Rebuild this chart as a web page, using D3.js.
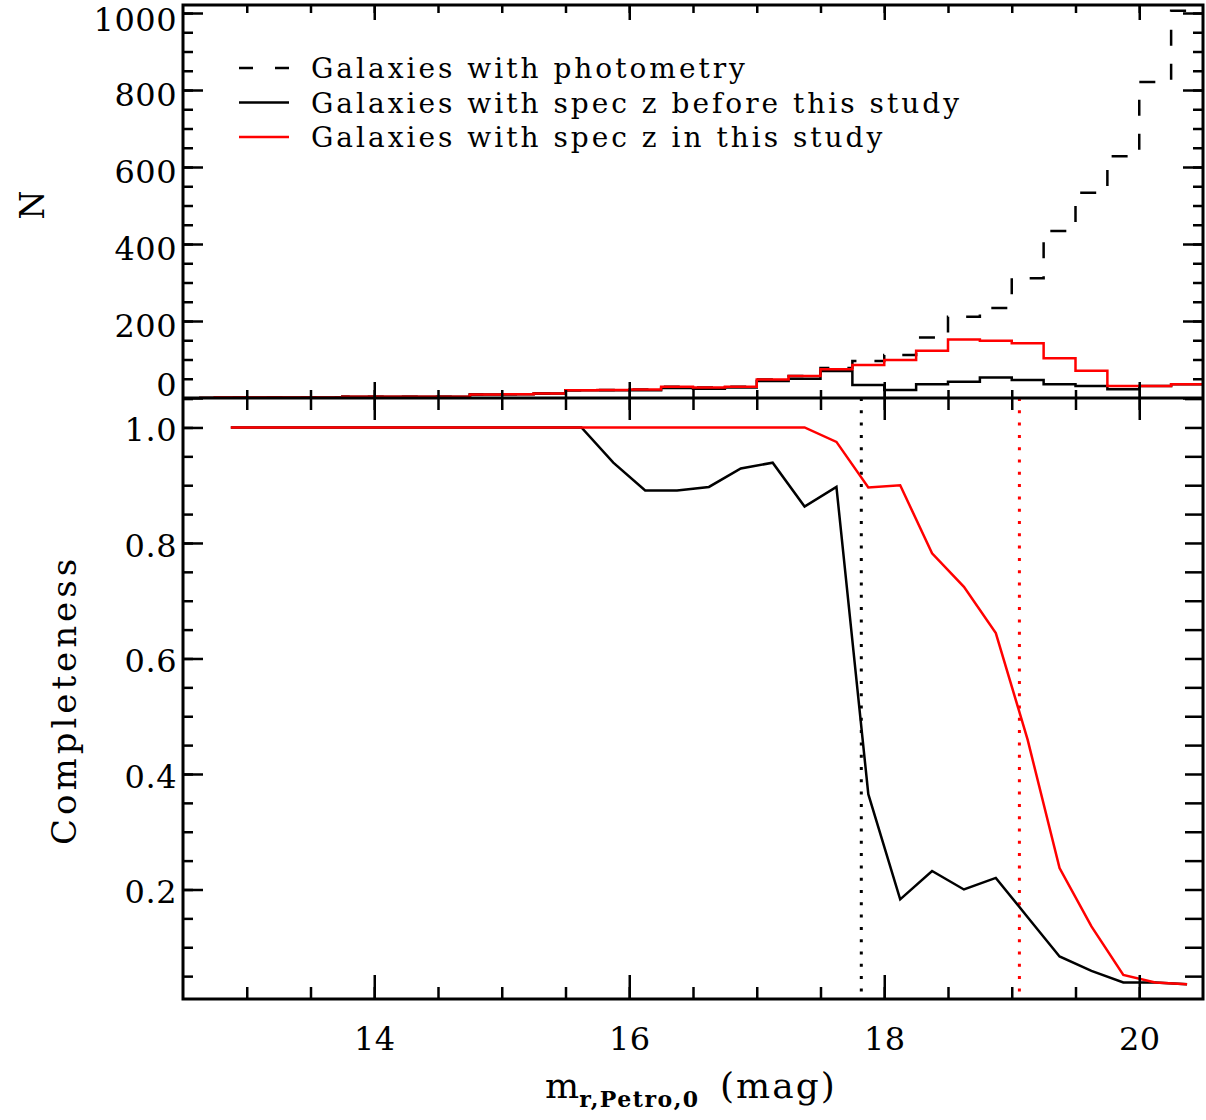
<!DOCTYPE html>
<html>
<head>
<meta charset="UTF-8">
<title>Completeness</title>
<script src="https://d3js.org/d3.v7.min.js"></script>
<style>
  body { margin: 0; background: #fff; }
  svg text { font-family: "DejaVu Serif", serif; fill: #000; }
  .tick line { stroke: #000; stroke-width: 2.5; }
  .tick text { font-size: 32px; letter-spacing: 0.5px; }
  .legend text { font-size: 28px; letter-spacing: 3px; }
</style>
</head>
<body>
<div id="chart"></div>
<script>
// histogram bins (bin centres, 0.25 mag)
const magBins = [12.625, 12.875, 13.125, 13.375, 13.625, 13.875, 14.125, 14.375, 14.625, 14.875,
                 15.125, 15.375, 15.625, 15.875, 16.125, 16.375, 16.625, 16.875, 17.125, 17.375,
                 17.625, 17.875, 18.125, 18.375, 18.625, 18.875, 19.125, 19.375, 19.625, 19.875,
                 20.125, 20.375];
const nPhot   = [0, 1, 1, 1, 1, 3, 3, 3, 3, 9, 10, 12, 20, 21, 22, 29, 27, 29, 48, 57,
                 78, 96, 112, 157, 211, 234, 311, 434, 533, 628, 821, 1006];
const nBefore = [0, 1, 1, 1, 1, 3, 3, 3, 3, 9, 10, 12, 20, 20, 20, 26, 24, 27, 44, 50,
                 70, 34, 21, 36, 42, 53, 47, 36, 31, 23, 31, 36];
const nTotal  = [0, 1, 1, 1, 1, 3, 3, 3, 3, 9, 10, 12, 20, 21, 22, 29, 27, 29, 48, 57,
                 75, 86, 99, 123, 152, 149, 142, 103, 71, 31, 31, 36];

// completeness points
const magPts = [12.875, 13.125, 13.375, 13.625, 13.875, 14.125, 14.375, 14.625, 14.875, 15.125,
                15.375, 15.625, 15.875, 16.125, 16.375, 16.625, 16.875, 17.125, 17.375, 17.625,
                17.875, 18.125, 18.375, 18.625, 18.875, 19.125, 19.375, 19.625, 19.875, 20.125,
                20.375];
const compBefore = [1, 1, 1, 1, 1, 1, 1, 1, 1, 1, 1, 1, 0.939, 0.891, 0.891, 0.897, 0.929, 0.939, 0.863, 0.897,
                    0.365, 0.183, 0.232, 0.200, 0.220, 0.152, 0.084, 0.059, 0.039, 0.039, 0.036];
const compTotal  = [1, 1, 1, 1, 1, 1, 1, 1, 1, 1, 1, 1, 1, 1, 1, 1, 1, 1, 1, 0.975,
                    0.896, 0.900, 0.782, 0.724, 0.644, 0.459, 0.237, 0.136, 0.052, 0.039, 0.036];

const magLimBefore = 17.82;
const magLimThis = 19.06;

const xTickVals = [14, 16, 18, 20];
const nTickVals = [0, 200, 400, 600, 800, 1000];
const cTickVals = [0.2, 0.4, 0.6, 0.8, 1.0];

const legendLabels = ["Galaxies with photometry",
                      "Galaxies with spec z before this study",
                      "Galaxies with spec z in this study"];

const W = 1206, H = 1120;
const L = 183, R = 1203, T = 5, M = 398, B = 999;

const svg = d3.select("#chart").append("svg")
    .attr("width", W).attr("height", H);

const x = d3.scaleLinear().domain([12.5, 20.5]).range([L, R]);
const yN = d3.scaleLinear().domain([0, 1020.8]).range([M, T]);
const yC = d3.scaleLinear().domain([0.0104, 1.051]).range([B, M]);

const minorX = d3.range(13, 20.01, 0.5);
const minorN = d3.range(50, 1001, 50);
const minorC = d3.range(0.05, 1.051, 0.05).map(v => +v.toFixed(2));

function ax(gen, at, vals, size, fmt) {
    const g = svg.append("g").attr("transform", at)
        .call(gen.tickValues(vals).tickSizeInner(size).tickSizeOuter(0)
                 .tickPadding(6).tickFormat(fmt || (() => "")));
    g.select(".domain").remove();
    return g;
}

// clip paths
svg.append("clipPath").attr("id", "clipTop").append("rect")
    .attr("x", L).attr("y", T).attr("width", R - L).attr("height", M - T);
svg.append("clipPath").attr("id", "clipBot").append("rect")
    .attr("x", L).attr("y", M).attr("width", R - L).attr("height", B - M);

// ---- top panel: histograms
const histLine = d3.line().x(d => x(d[0])).y(d => yN(d[1])).curve(d3.curveStep);
function histPts(vals) {
    const pts = magBins.map((m, i) => [m, vals[i]]);
    pts.push([20.5, vals[vals.length - 1]]);
    return pts;
}
const topG = svg.append("g").attr("clip-path", "url(#clipTop)");
topG.append("path").attr("d", histLine(histPts(nPhot)))
    .attr("fill", "none").attr("stroke", "#000").attr("stroke-width", 2.5)
    .attr("stroke-dasharray", "16,18");
topG.append("path").attr("d", histLine(histPts(nBefore)))
    .attr("fill", "none").attr("stroke", "#000").attr("stroke-width", 2.5);
topG.append("path").attr("d", histLine(histPts(nTotal)))
    .attr("fill", "none").attr("stroke", "#ff0000").attr("stroke-width", 2.5);

// ---- bottom panel: completeness
const botG = svg.append("g").attr("clip-path", "url(#clipBot)");
const cLine = d3.line().x((d, i) => x(magPts[i])).y(d => yC(d));
[[magLimBefore, "#000"], [magLimThis, "#ff0000"]].forEach(([m, c]) => {
    botG.append("line").attr("x1", x(m)).attr("x2", x(m)).attr("y1", M).attr("y2", B)
        .attr("stroke", c).attr("stroke-width", 3).attr("stroke-dasharray", "3,9.3");
});
botG.append("path").attr("d", cLine(compBefore))
    .attr("fill", "none").attr("stroke", "#000").attr("stroke-width", 2.5);
botG.append("path").attr("d", cLine(compTotal))
    .attr("fill", "none").attr("stroke", "#ff0000").attr("stroke-width", 2.5);

// ---- axes (ticks inward)
// top panel
ax(d3.axisTop(x), `translate(0,${T})`, minorX, -8);
ax(d3.axisTop(x), `translate(0,${T})`, xTickVals, -15);
ax(d3.axisBottom(x), `translate(0,${M})`, minorX, -8);
ax(d3.axisBottom(x), `translate(0,${M})`, xTickVals, -16);
ax(d3.axisLeft(yN), `translate(${L},0)`, minorN, -10);
const nAx = ax(d3.axisLeft(yN), `translate(${L},0)`, nTickVals, -20, d => d);
nAx.selectAll("text").attr("dy", "0.32em")
    .attr("y", d => d === 0 ? -13 : (d === 1000 ? 7 : 5));
ax(d3.axisRight(yN), `translate(${R},0)`, minorN, -10);
ax(d3.axisRight(yN), `translate(${R},0)`, nTickVals, -20);

// bottom panel
ax(d3.axisTop(x), `translate(0,${M})`, minorX, -12);
ax(d3.axisTop(x), `translate(0,${M})`, xTickVals, -22);
ax(d3.axisBottom(x), `translate(0,${B})`, minorX, -12);
const xAx = ax(d3.axisBottom(x), `translate(0,${B})`, xTickVals, -24, d => d);
xAx.selectAll("text").attr("y", 40).attr("dy", "0.35em");
ax(d3.axisLeft(yC), `translate(${L},0)`, minorC, -10);
const cAx = ax(d3.axisLeft(yC), `translate(${L},0)`, cTickVals, -20, d3.format(".1f"));
cAx.selectAll("text").attr("y", 3);
ax(d3.axisRight(yC), `translate(${R},0)`, minorC, -18);

// frames
svg.append("rect").attr("x", L).attr("y", T).attr("width", R - L).attr("height", B - T)
    .attr("fill", "none").attr("stroke", "#000").attr("stroke-width", 3);
svg.append("line").attr("x1", L).attr("x2", R).attr("y1", M).attr("y2", M)
    .attr("stroke", "#000").attr("stroke-width", 3);

// axis titles
svg.append("text").attr("transform", "translate(44,205) rotate(-90)")
    .attr("text-anchor", "middle").style("font-size", "33px").text("N");
svg.append("text").attr("transform", "translate(76,700) rotate(-90)")
    .attr("text-anchor", "middle").style("font-size", "34px").style("letter-spacing", "4px")
    .text("Completeness");

const xt = svg.append("text").attr("x", 545).attr("y", 1098).style("font-size", "36px");
xt.append("tspan").text("m");
xt.append("tspan").attr("dy", 9).style("font-size", "22px").style("font-weight", "bold")
    .style("letter-spacing", "1.5px").text("r,Petro,0");
xt.append("tspan").attr("dy", -9).attr("x", 720).style("letter-spacing", "2px").text("(mag)");

// legend
const leg = svg.append("g").attr("class", "legend");
const legStyles = [["#000", "14,22"], ["#000", null], ["#ff0000", null]];
legendLabels.forEach((lab, i) => {
    const yy = 68 + i * 34.5;
    leg.append("line").attr("x1", 239).attr("x2", 289).attr("y1", yy).attr("y2", yy)
        .attr("stroke", legStyles[i][0]).attr("stroke-width", 2.5)
        .attr("stroke-dasharray", legStyles[i][1]);
    leg.append("text").attr("x", 311).attr("y", yy + 10).text(lab);
});
</script>
</body>
</html>
